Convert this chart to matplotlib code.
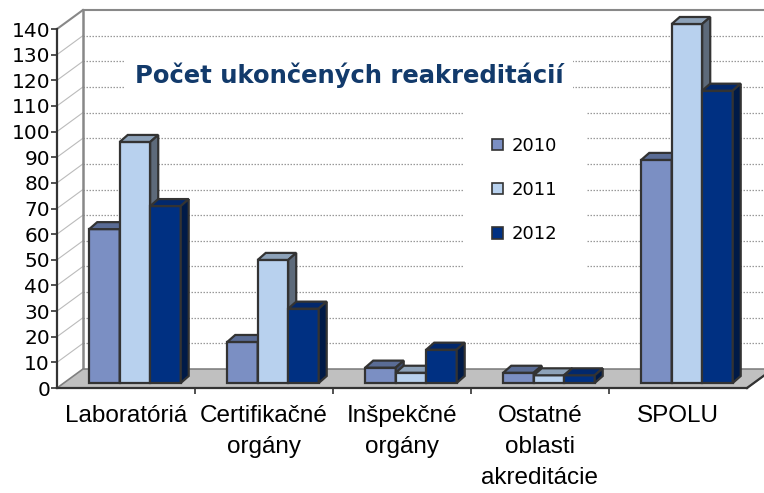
import matplotlib
matplotlib.use('Agg')
import matplotlib.pyplot as plt
from matplotlib.patches import Polygon, Patch
import numpy as np

categories = ['Laboratóriá', 'Certifikačné\norgány', 'Inšpekčné\norgány',
              'Ostatné\noblasti\nakreditácie', 'SPOLU']
years = ['2010', '2011', '2012']
v2010 = [60, 16, 6, 4, 87]
v2011 = [94, 48, 4, 3, 140]
v2012 = [69, 29, 13, 3, 114]
y_ticks = list(range(0, 141, 10))

front_colors = ['#7B8FC3', '#B8D1EE', '#003082']
top_colors = ['#5A6C95', '#8DA2B9', '#02286C']
side_colors = ['#3E4C6C', '#5D6A7A', '#001A47']
edge = '#333333'

# 3d look: depth of the whole box and of the bars (data units)
FDX, FDY = 0.188, 7.4
BX, BY = 0.065, 1.95
BDX, BDY = 0.058, 2.73
W = 0.221

fig = plt.figure(figsize=(7.64, 4.93), dpi=100)
ax = fig.add_axes([57 / 764, 105 / 493, 690 / 764, 359 / 493])
ax.set_xlim(-0.5, 4.5)
ax.set_ylim(0, 140)
ax.patch.set_visible(False)

# back wall grid
x0w = -0.5 + FDX
for v in y_ticks[1:-1]:
    ax.plot([x0w, 4.5 + FDX + 0.2], [v + FDY, v + FDY], color='#999999', lw=0.9,
            ls=(0, (1.2, 1.2)), clip_on=False, zorder=1)
    ax.plot([-0.5, x0w], [v, v + FDY], color='#BBBBBB', lw=0.8, clip_on=False, zorder=1)
ax.plot([x0w, 4.5 + FDX + 0.2], [140 + FDY, 140 + FDY], color='#888888', lw=1.5,
        clip_on=False, zorder=1)
ax.plot([-0.5, x0w], [140, 140 + FDY], color='#888888', lw=1.5, clip_on=False, zorder=1)
ax.plot([x0w, x0w], [FDY, 140 + FDY], color='#888888', lw=1.8, clip_on=False, zorder=1)

# floor
floor = Polygon([(-0.5, 0), (4.5, 0), (4.5 + FDX, FDY), (-0.5 + FDX, FDY)],
                closed=True, facecolor='#C0C0C0', edgecolor='#808080', lw=1.2,
                clip_on=False, zorder=3)
ax.add_patch(floor)
ax.plot([4.5, 4.5 + FDX], [0, FDY], color=edge, lw=1.6, clip_on=False, zorder=3)

# bars
series = [v2010, v2011, v2012]
x = np.arange(len(categories))
for j, vals in enumerate(series):
    xs = x - 1.5 * W + j * W + BX
    z = 4 + j
    ax.bar(xs, vals, width=W, bottom=BY, align='edge', color=front_colors[j],
           edgecolor=edge, linewidth=1.6, zorder=z, clip_on=False)
    for xi, v in zip(xs, vals):
        top = [(xi, BY + v), (xi + W, BY + v), (xi + W + BDX, BY + v + BDY),
               (xi + BDX, BY + v + BDY)]
        side = [(xi + W, BY), (xi + W + BDX, BY + BDY), (xi + W + BDX, BY + v + BDY),
                (xi + W, BY + v)]
        ax.add_patch(Polygon(top, closed=True, facecolor=top_colors[j], edgecolor=edge,
                             lw=1.6, zorder=z, clip_on=False))
        ax.add_patch(Polygon(side, closed=True, facecolor=side_colors[j], edgecolor=edge,
                             lw=1.6, zorder=z, clip_on=False))

# axes
for s in ['top', 'right']:
    ax.spines[s].set_visible(False)
for s in ['left', 'bottom']:
    ax.spines[s].set_color(edge)
    ax.spines[s].set_linewidth(1.6)
    ax.spines[s].set_zorder(8)
ax.set_yticks(y_ticks)
ax.set_yticklabels([str(t) for t in y_ticks], fontsize=14.5, color='black')
ax.tick_params(axis='y', direction='out', length=4, width=1.2, color=edge, pad=1)
ax.set_xticks(x)
ax.set_xticklabels(categories, fontsize=17.5, family='Liberation Sans', linespacing=1.52,
                   va='top')
ax.tick_params(axis='x', which='major', length=0, pad=12.5)
ax.set_xticks(np.arange(0.5, 4, 1), minor=True)
ax.tick_params(axis='x', which='minor', direction='out', length=4, width=1.2, color=edge)

fig.text(349 / 764, 1 - 75 / 493, 'Počet ukončených reakreditácií', fontsize=17.5,
         fontweight='bold', family='DejaVu Sans', color='#123A6B', ha='center', va='center',
         bbox=dict(facecolor='white', edgecolor='none', pad=7), zorder=2)

handles = [Patch(facecolor=c, edgecolor=edge, linewidth=1.2) for c in front_colors]
leg = ax.legend(handles, years, loc='center', bbox_to_anchor=(525 / 764, 1 - 190 / 493),
                bbox_transform=fig.transFigure, fontsize=13, frameon=True, fancybox=False,
                handlelength=0.6, handleheight=0.6, handletextpad=0.5, labelspacing=1.45,
                borderpad=1.6)
leg.get_frame().set_facecolor('white')
leg.get_frame().set_edgecolor('none')
leg.get_frame().set_alpha(1)
leg.set_zorder(2)

fig.savefig('out.png', dpi=100)
